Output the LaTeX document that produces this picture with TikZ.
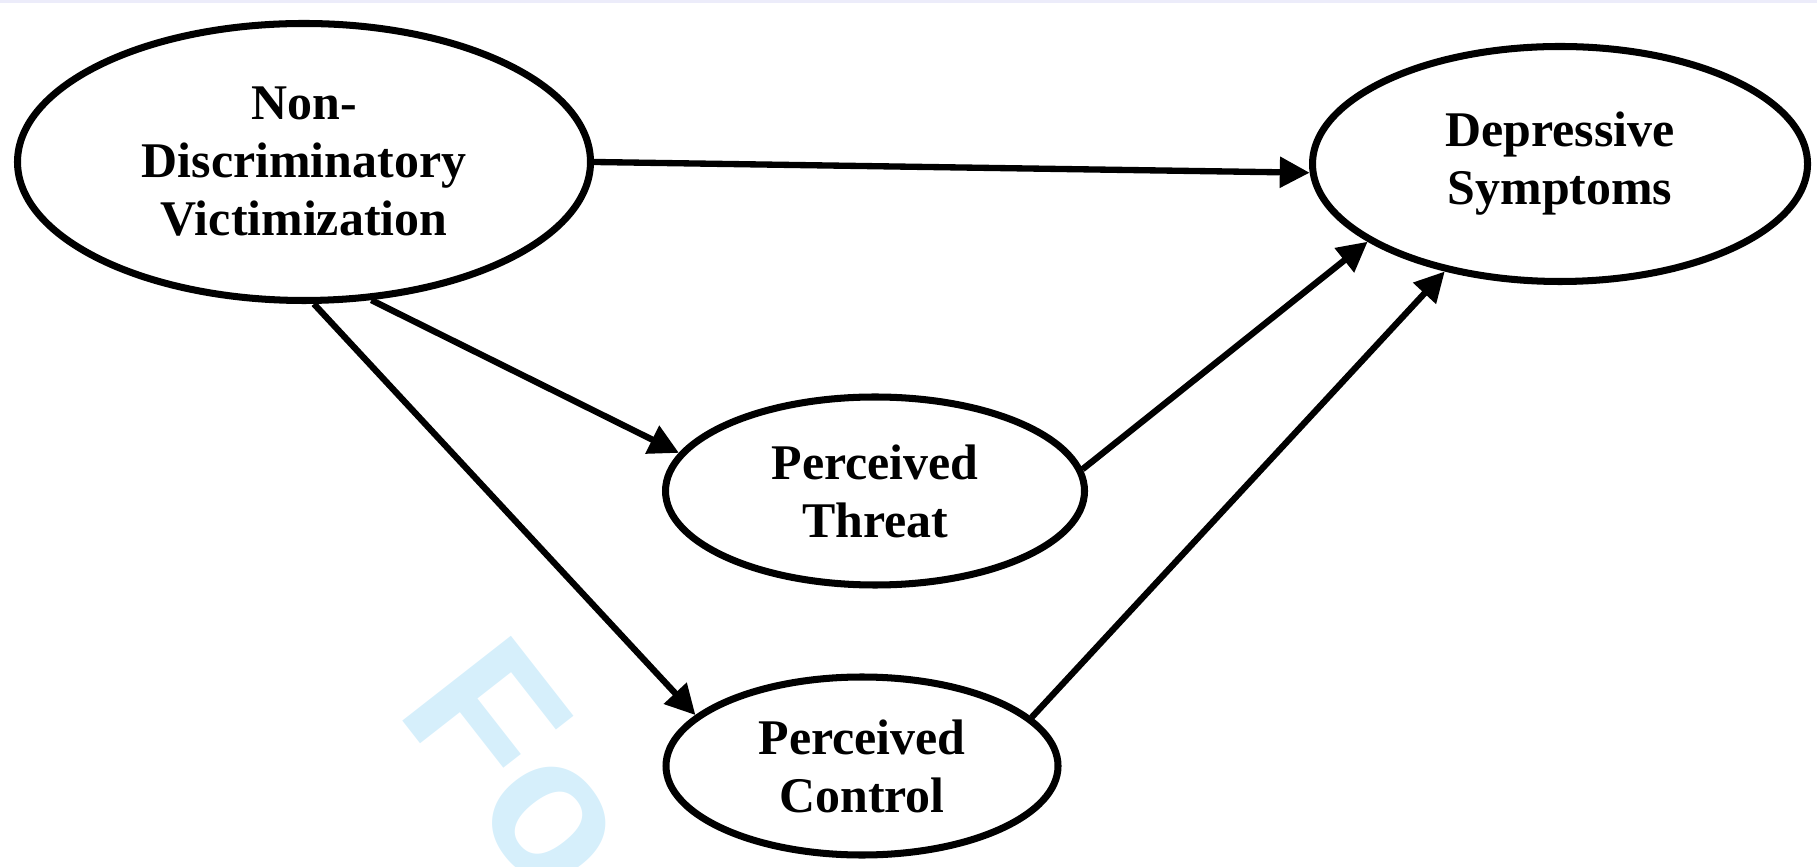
\documentclass[tikz,border=0pt]{standalone}
\usepackage{fontspec}
\setmainfont{Liberation Serif}
\setsansfont{Liberation Sans}
\usepackage{xcolor}
\usepackage{tikz}
\usetikzlibrary{shapes.geometric, arrows.meta, positioning}

\definecolor{wmblue}{RGB}{214,239,251}
\definecolor{edgelav}{RGB}{236,236,250}

\tikzset{
  var/.style={ellipse, draw, line width=2pt, fill=white, inner sep=0pt,
    align=center, font=\fontsize{14.2}{16.5}\selectfont\bfseries},
  link/.style={line width=1.8pt, -{Triangle[length=8.5pt,width=8.5pt]}},
  wmark/.style={text=wmblue, inner sep=0pt, anchor=base west, rotate=-52,
    font=\sffamily\bfseries\fontsize{57}{60}\selectfont}
}

\begin{document}
\begin{tikzpicture}
    \useasboundingbox (0,0) rectangle (18.17,-8.67);
    \clip (0,0) rectangle (18.17,-8.67);
    \fill[edgelav] (0,0) rectangle (18.17,-0.03);
    % watermark
    \node[wmark] (W) at (3.94,-7.10) {Fo};

    \node[var, minimum width=5.73cm, minimum height=2.77cm] (A) at (3.04,-1.62) {Non-\\Discriminatory\\Victimization};
    \node[var, minimum width=4.95cm, minimum height=2.35cm] (D) at (15.60,-1.64) {Depressive\\Symptoms};
    \node[var, minimum width=4.19cm, minimum height=1.88cm] (B) at (8.75,-4.91) {Perceived\\Threat};
    \node[var, minimum width=3.92cm, minimum height=1.78cm] (C) at (8.62,-7.66) {Perceived\\Control};

    \path[link] (A.-0.6) edge (D.182)
      (A.-64) edge (B.169)
      (A.-86) edge (C.163)
      (B.6.5) edge (D.202)
      (C.16) edge (D.223);
\end{tikzpicture}
\end{document}
